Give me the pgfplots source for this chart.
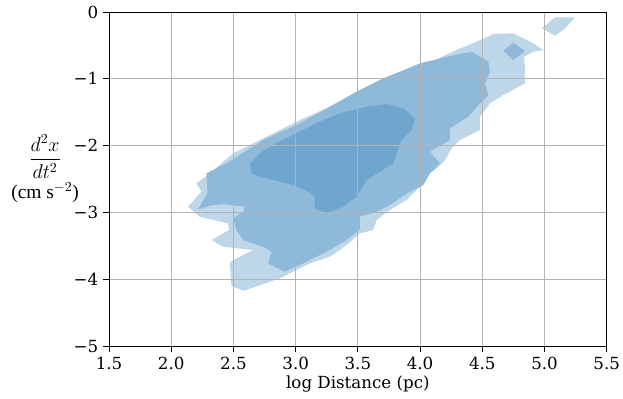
\documentclass[border=0pt]{standalone}
\usepackage{amsmath}
\usepackage{fontspec}
\setmainfont{DejaVu Serif}
\newfontfamily\labfont{Liberation Serif}
\usepackage{pgfplots}
\pgfplotsset{compat=1.18}
\definecolor{cl}{RGB}{189,215,233}
\definecolor{cm}{RGB}{143,185,216}
\definecolor{cd}{RGB}{110,166,205}
\begin{document}
\begin{tikzpicture}[x=1pt,y=1pt]
\begin{axis}[
  scale only axis,
  width=358.3pt, height=240.5pt,
  xmin=1.5, xmax=5.5, ymin=-5, ymax=0,
  xtick={1.5,2,2.5,3,3.5,4,4.5,5,5.5},
  xticklabels={1.5,2.0,2.5,3.0,3.5,4.0,4.5,5.0,5.5},
  ytick={-5,-4,-3,-2,-1,0},
  yticklabels={−5,−4,−3,−2,−1,0},
  tick label style={font=\fontsize{12}{14}\selectfont},
  label style={font=\fontsize{12}{14}\selectfont},
  tick align=outside,
  major tick length=4.3pt,
  tick style={black, line width=0.6pt},
  xtick pos=bottom, ytick pos=left,
  grid=major,
  grid style={color=black!30, line width=0.6pt},
  axis line style={line width=0.6pt},
  axis on top,
  xlabel={log Distance (pc)},
  xlabel style={yshift=2pt},
  ylabel={$\dfrac{d^2x}{dt^2}$\\[2pt]{\labfont(cm s$^{-2}$)}},
  ylabel style={rotate=-90, align=center, at={(rel axis cs:0,0.53)}, anchor=center, xshift=-46pt, font=\labfont\fontsize{14}{14}\selectfont},
]
% outer (light) level
\addplot[fill=cl, draw=none] coordinates {
(2.583,-4.172) (2.873,-3.987) (3.007,-3.862) (3.114,-3.762) (3.275,-3.663)
(3.409,-3.488) (3.516,-3.313) (3.623,-3.263) (3.650,-3.114) (3.757,-2.964)
(3.891,-2.814) (3.999,-2.615) (4.039,-2.465) (4.133,-2.340) (4.200,-2.216)
(4.253,-2.041) (4.320,-1.916) (4.481,-1.766) (4.481,-1.567) (4.562,-1.367)
(4.669,-1.243) (4.843,-1.068) (4.843,-0.818) (4.835,-0.669) (4.910,-0.594)
(4.991,-0.569) (4.910,-0.469) (4.749,-0.319) (4.589,-0.329) (4.454,-0.444)
(4.240,-0.609) (4.106,-0.734) (3.945,-0.818) (3.704,-1.018) (3.516,-1.193)
(3.275,-1.417) (3.034,-1.617) (2.765,-1.866) (2.497,-2.116) (2.310,-2.415)
(2.202,-2.565) (2.243,-2.690) (2.135,-2.914) (2.229,-3.064) (2.457,-3.164)
(2.465,-3.263) (2.323,-3.413) (2.417,-3.513) (2.658,-3.563) (2.497,-3.713)
(2.471,-3.752) (2.484,-4.102)
} --cycle;
\addplot[fill=cl, draw=none] coordinates {
(4.977,-0.245) (5.085,-0.080) (5.245,-0.080) (5.165,-0.245) (5.085,-0.354)
} --cycle;
% middle level
\addplot[fill=cm, draw=none] coordinates {
(2.216,-2.954) (2.310,-2.899) (2.417,-2.874) (2.591,-2.914) (2.578,-2.989)
(2.497,-3.089) (2.524,-3.263) (2.578,-3.413) (2.739,-3.513) (2.806,-3.588)
(2.779,-3.762) (2.913,-3.887) (3.060,-3.762) (3.248,-3.588) (3.409,-3.413)
(3.516,-3.253) (3.516,-3.064) (3.650,-2.989) (3.757,-2.889) (3.918,-2.690)
(4.026,-2.590) (4.079,-2.415) (4.160,-2.265) (4.079,-2.091) (4.240,-1.916)
(4.240,-1.742) (4.387,-1.567) (4.481,-1.367) (4.548,-1.243) (4.522,-1.068)
(4.562,-0.893) (4.548,-0.744) (4.414,-0.594) (4.240,-0.659) (3.999,-0.768)
(3.838,-0.893) (3.704,-0.993) (3.489,-1.193) (3.275,-1.417) (3.034,-1.667)
(2.739,-1.916) (2.444,-2.265) (2.283,-2.415) (2.291,-2.715)
} --cycle;
\addplot[fill=cm, draw=none] coordinates {
(4.749,-0.459) (4.843,-0.584) (4.749,-0.719) (4.669,-0.579)
} --cycle;
% inner (dark) level
\addplot[fill=cd, draw=none] coordinates {
(2.631,-2.265) (2.725,-2.091) (2.819,-1.991) (3.007,-1.816) (3.194,-1.642)
(3.355,-1.517) (3.570,-1.417) (3.731,-1.377) (3.865,-1.442) (3.958,-1.592)
(3.932,-1.766) (3.851,-1.916) (3.784,-2.265) (3.677,-2.390) (3.570,-2.515)
(3.489,-2.764) (3.382,-2.914) (3.248,-3.014) (3.154,-2.939) (3.154,-2.764)
(3.114,-2.705) (2.980,-2.590) (2.819,-2.515) (2.712,-2.465) (2.645,-2.415)
} --cycle;
\end{axis}
\pgfresetboundingbox
\path[use as bounding box] ([xshift=-78.48pt,yshift=-37.44pt]current axis.south west) rectangle ([xshift=11.7pt,yshift=8.64pt]current axis.north east);
\end{tikzpicture}
\end{document}
